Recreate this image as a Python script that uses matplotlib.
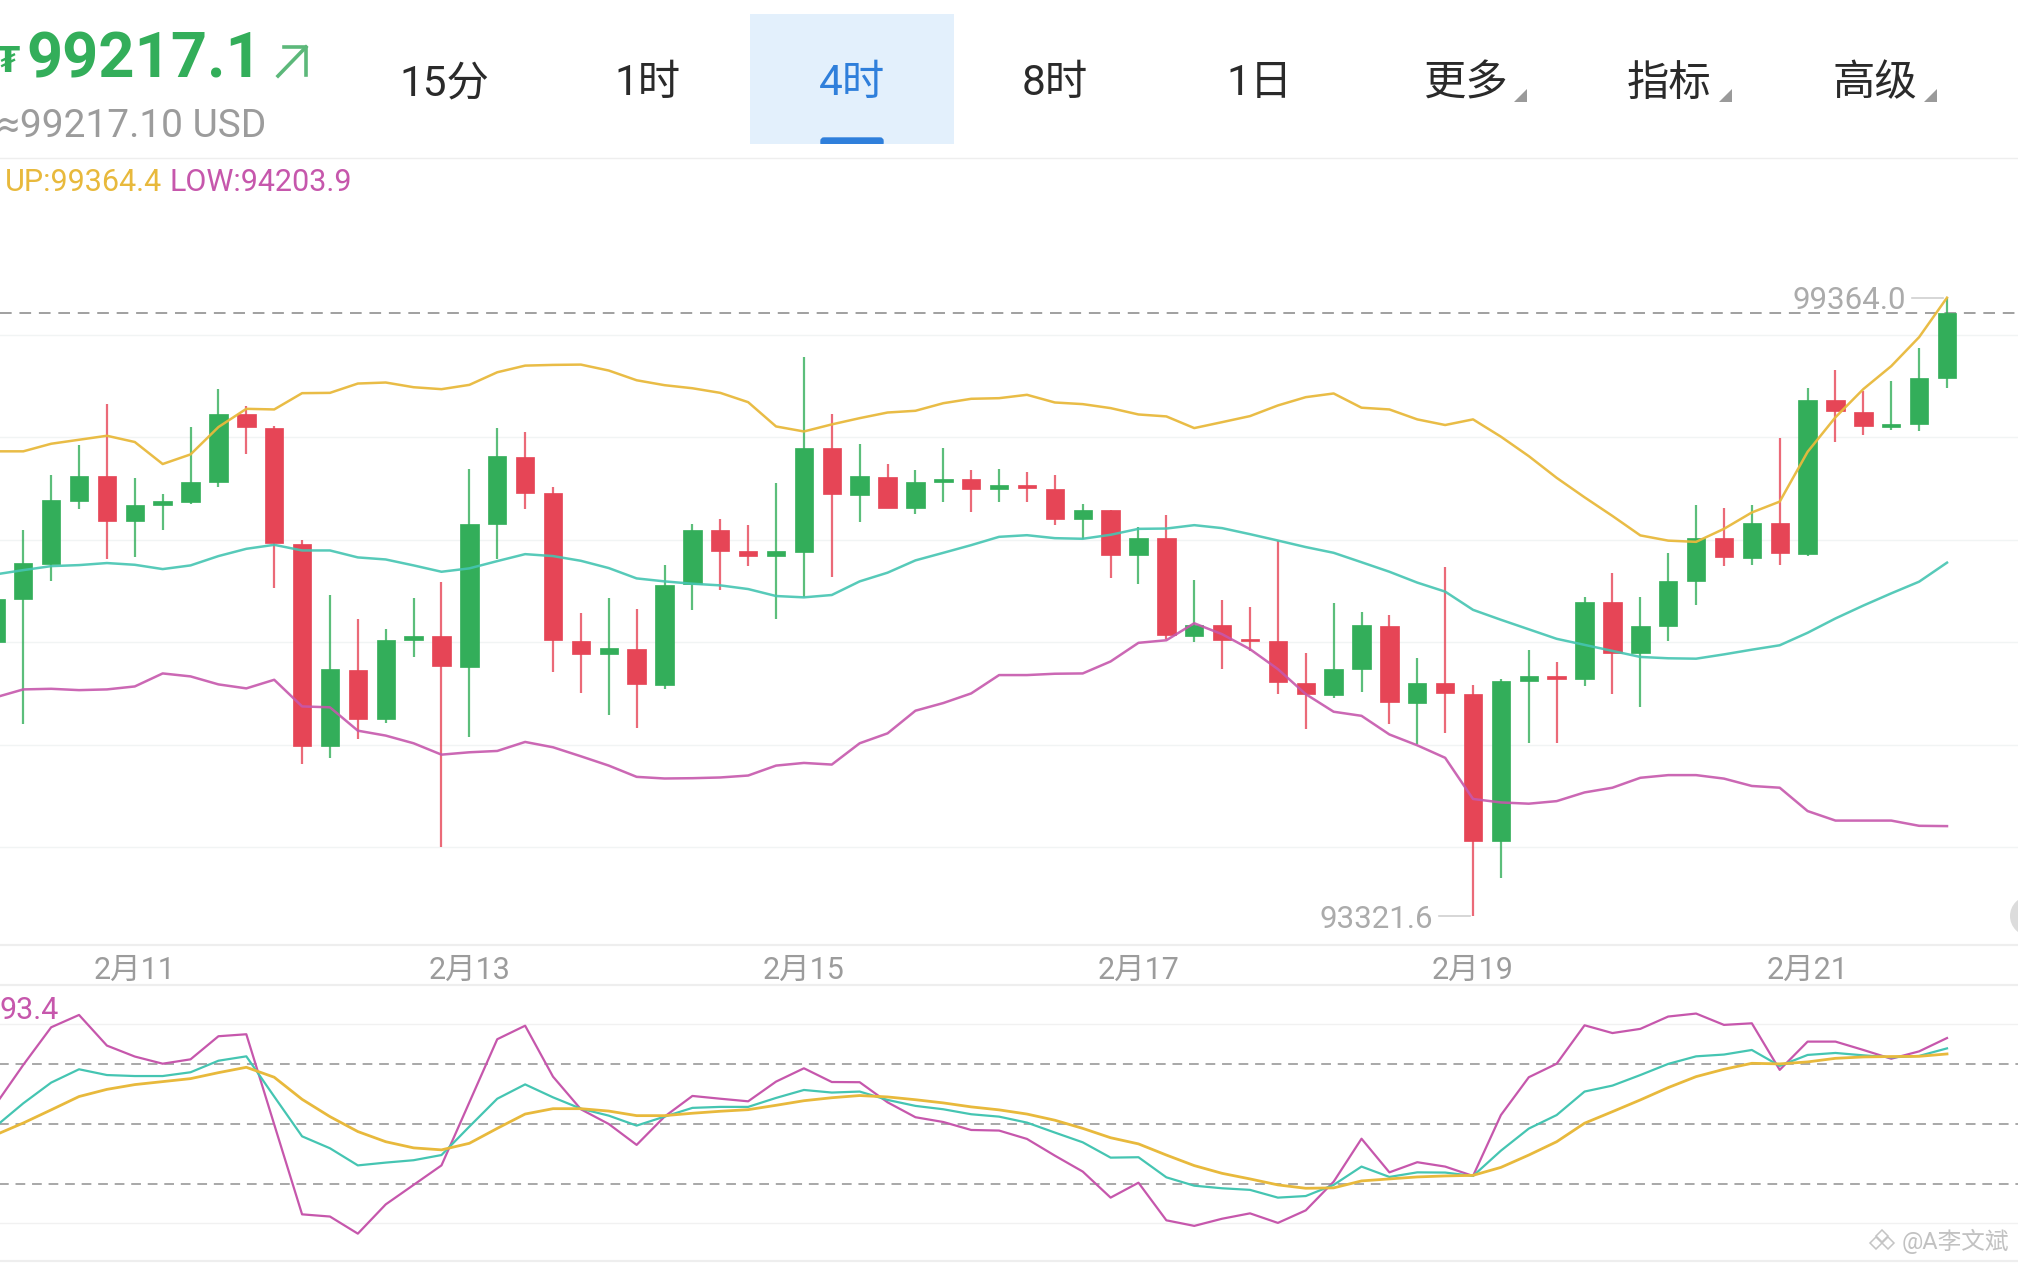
import matplotlib
matplotlib.use("Agg")
import matplotlib.pyplot as plt
from matplotlib.patches import Rectangle, FancyBboxPatch, Polygon, Circle

plt.rcParams["font.family"] = ["Roboto", "Noto Sans CJK SC", "DejaVu Sans"]

# 4h candles
open_ = [96006, 96419, 96766, 97380, 97627, 97182, 97338, 97373, 97562, 98227,
         98094, 96958, 94987, 95727, 95250, 96019, 96058, 95760, 97152, 97812,
         97461, 96013, 95880, 95938, 95584, 96565, 97091, 96886, 96841, 96883,
         97896, 97441, 97617, 97308, 97562, 97591, 97493, 97536, 97500, 97201,
         97289, 96847, 97016, 96065, 96166, 96029, 96013, 95597, 95487, 95741,
         96160, 95408, 95602, 95496, 94063, 95623, 95674, 95640, 96388, 95894,
         96156, 96595, 97014, 96823, 97161, 96866, 98366, 98252, 98104, 98129,
         98577]
close = [96425, 96769, 97386, 97627, 97188, 97344, 97380, 97565, 98230, 98097,
         96964, 94990, 95734, 95253, 96026, 96065, 95763, 97159, 97818, 97461,
         96019, 95883, 95945, 95591, 96558, 97094, 96890, 96841, 96886, 97899,
         97445, 97620, 97312, 97568, 97594, 97497, 97539, 97506, 97208, 97292,
         96851, 97019, 96068, 96169, 96023, 96016, 95607, 95493, 95743, 96164,
         95412, 95606, 95505, 94063, 95623, 95674, 95640, 96392, 95898, 96160,
         96599, 97018, 96828, 97166, 96870, 98370, 98256, 98108, 98129, 98582,
         99217.1]
high = [96470, 97091, 97630, 97925, 98325, 97604, 97451, 98104, 98477, 98308,
        98114, 96997, 96464, 96224, 96127, 96435, 96591, 97695, 98088, 98052,
        97513, 96286, 96429, 96321, 96753, 97159, 97208, 97146, 97555, 98789,
        98224, 97938, 97743, 97685, 97896, 97679, 97695, 97662, 97636, 97354,
        97289, 97127, 97243, 96604, 96416, 96344, 96987, 95899, 96383, 96291,
        96261, 95843, 96730, 95585, 95640, 95923, 95809, 96439, 96671, 96443,
        96870, 97335, 97309, 97343, 97998, 98480, 98658, 98451, 98548, 98877,
        99364.0]
low = [95950, 95201, 96594, 97305, 96808, 96828, 97091, 97354, 97513, 97834,
       96529, 94815, 94873, 95052, 95214, 95860, 94000, 95078, 96808, 97305,
       95711, 95503, 95292, 95162, 95545, 96312, 96506, 96743, 96231, 96441,
       96636, 97169, 97312, 97253, 97373, 97276, 97370, 97373, 97140, 97010,
       96630, 96571, 96029, 96003, 95740, 95916, 95493, 95152, 95454, 95509,
       95200, 95002, 95116, 93321.6, 93696, 95019, 95014, 95568, 95496, 95365,
       96012, 96367, 96743, 96756, 96756, 96840, 97952, 98028, 98070, 98058,
       98480]

# bollinger bands
boll_up = [97864, 97864, 97938, 97977, 98016, 97955, 97740, 97834, 98101, 98279,
           98273, 98432, 98435, 98526, 98536, 98490, 98471, 98513, 98636, 98701,
           98708, 98711, 98653, 98558, 98510, 98480, 98435, 98344, 98107, 98058,
           98127, 98188, 98243, 98260, 98334, 98377, 98383, 98416, 98341, 98325,
           98286, 98224, 98205, 98091, 98149, 98208, 98312, 98393, 98429, 98290,
           98273, 98176, 98121, 98176, 98007, 97817, 97605, 97415, 97233, 97043,
           96992, 96980, 97107, 97267, 97373, 97859, 98197, 98472, 98696, 98979,
           99364.4]
boll_mid = [96662, 96704, 96743, 96753, 96773, 96756, 96714, 96750, 96841, 96912,
            96951, 96896, 96896, 96828, 96808, 96750, 96688, 96721, 96792, 96860,
            96841, 96795, 96724, 96623, 96594, 96571, 96555, 96519, 96451, 96438,
            96461, 96594, 96679, 96799, 96873, 96948, 97029, 97045, 97016, 97010,
            97049, 97107, 97110, 97143, 97114, 97055, 96993, 96929, 96873, 96781,
            96688, 96582, 96494, 96316, 96219, 96126, 96033, 95974, 95915, 95856,
            95843, 95839, 95881, 95927, 95970, 96092, 96232, 96358, 96477, 96591,
            96777]
boll_low = [95461, 95539, 95545, 95532, 95539, 95568, 95695, 95666, 95588, 95549,
            95633, 95373, 95364, 95136, 95088, 95013, 94902, 94925, 94938, 95026,
            94974, 94886, 94795, 94685, 94669, 94672, 94679, 94698, 94795, 94821,
            94805, 95013, 95110, 95331, 95406, 95500, 95679, 95679, 95692, 95695,
            95812, 95994, 96019, 96185, 96078, 95932, 95737, 95493, 95321, 95281,
            95099, 94993, 94871, 94469, 94435, 94423, 94448, 94533, 94579, 94676,
            94702, 94702, 94668, 94596, 94579, 94351, 94258, 94258, 94258, 94207,
            94203.9]

# KDJ
kdj_k = [48.6, 60.3, 70.7, 77.4, 74.5, 74.0, 74.0, 75.9, 81.7, 83.9,
         63.7, 43.7, 37.7, 29.1, 30.5, 31.7, 34.3, 48.6, 62.6, 69.8,
         63.3, 57.6, 54.1, 49.1, 53.6, 58.0, 58.5, 58.5, 63.0, 67.0,
         65.7, 66.2, 62.0, 59.0, 57.3, 54.8, 53.6, 50.6, 45.6, 40.7,
         33.0, 33.2, 23.1, 18.9, 17.6, 16.8, 12.9, 13.7, 19.3, 28.5,
         23.3, 25.6, 25.5, 23.8, 36.5, 47.6, 54.4, 66.2, 69.2, 74.5,
         80.1, 83.9, 84.8, 87.1, 79.1, 84.6, 85.6, 84.4, 83.4, 84.1,
         87.9]
kdj_d = [44.4, 50.4, 57.0, 63.7, 67.3, 69.7, 71.2, 72.7, 75.7, 78.4,
         73.4, 62.3, 53.6, 46.1, 41.0, 37.9, 36.9, 40.2, 47.7, 54.9,
         57.6, 57.6, 56.4, 54.1, 54.1, 55.3, 56.3, 57.1, 59.3, 61.6,
         63.1, 64.2, 63.5, 62.1, 60.5, 58.5, 57.0, 54.9, 51.8, 47.7,
         43.0, 39.9, 34.3, 29.0, 25.1, 22.3, 19.3, 17.6, 17.8, 21.3,
         22.3, 23.3, 23.8, 24.1, 28.1, 34.3, 41.0, 50.3, 56.1, 62.0,
         68.2, 73.7, 77.4, 80.4, 80.1, 81.1, 82.9, 83.6, 83.8, 83.9,
         85.1]
kdj_j = [59.5, 79.6, 98.5, 104.7, 89.3, 83.8, 80.2, 82.4, 94.0, 95.0,
         49.7, 4.5, 3.4, -5.2, 9.5, 19.3, 29.1, 60.8, 92.5, 99.3,
         73.7, 57.3, 49.9, 39.4, 53.6, 64.0, 62.6, 61.3, 71.2, 77.9,
         71.0, 70.9, 60.8, 53.3, 50.9, 46.9, 46.6, 42.4, 34.0, 26.0,
         12.9, 20.4, 1.5, -1.3, 2.3, 5.0, 0.2, 6.5, 20.9, 42.5,
         25.6, 30.7, 28.5, 23.8, 54.4, 73.4, 80.2, 99.5, 95.6, 97.7,
         103.9, 105.4, 99.7, 100.5, 77.1, 91.3, 91.3, 87.1, 82.7, 86.4,
         93.1]

date_pos = [5, 17, 29, 41, 53, 65]
date_labels = ["2月11", "2月13", "2月15", "2月17", "2月19", "2月21"]
price_grid = [99000, 98000, 97000, 96000, 95000, 94000]
kdj_grid = [100, 0]
kdj_levels = [80, 50, 20]
last_price = 99217.1
tabs = ["15分", "1时", "4时", "8时", "1日", "更多", "指标", "高级"]
tab_x = [444, 647, 852, 1055, 1259, 1465, 1669, 1875]

W, H = 2018, 1263
green = "#33ae5a"
red = "#e64556"
yellow = "#e8b93c"
teal = "#45c5b2"
pink = "#c657ac"
gray = "#9c9c9c"
sep = "#eeeeee"

fig = plt.figure(figsize=(W / 100, H / 100), dpi=100, facecolor="white")


def panel(top, bottom):
    ax = fig.add_axes([0, 1 - bottom / H, 1, (bottom - top) / H])
    ax.set_xlim(4.6 / 27.88, (W + 4.6) / 27.88)
    ax.axis("off")
    return ax


# header / overlay in pixels
bg = fig.add_axes([0, 0, 1, 1], zorder=0)
bg.set_xlim(0, W)
bg.set_ylim(H, 0)
bg.axis("off")

bg.add_patch(Rectangle((750, 14), 204, 130, color="#e3f0fc", lw=0))
bg.add_patch(FancyBboxPatch((821, 138), 62, 8, boxstyle="round,pad=0,rounding_size=3",
                            color="#2f7fdb", lw=1, clip_on=True))
bg.add_patch(Rectangle((750, 144), 204, 6, color="white", lw=0, zorder=3))
bg.text(20, 62, "₮", color=green, fontsize=25, fontweight="bold", ha="right", va="center",
        family=["DejaVu Sans"])
bg.text(26, 78, "99217.1", color=green, fontsize=45.5, fontweight="bold", ha="left", va="baseline")
bg.plot([278, 306, 306], [76, 47, 47], color="#5cb87a", lw=2.6)
bg.plot([284, 306, 306], [47, 47, 75], color="#5cb87a", lw=2.6)
bg.text(-2, 137, "≈99217.10 USD", color=gray, fontsize=28, ha="left", va="baseline")
for name, x in zip(tabs, tab_x):
    col = "#2f7fdb" if name == "4时" else "#2a2a2a"
    bg.text(x, 84, name, color=col, fontsize=30.5, ha="center", va="center")
for x in [1527, 1732, 1937]:
    bg.add_patch(Polygon([[x, 89], [x, 102], [x - 13, 102]], color="#9a9a9a", lw=0))

for y, lw in [(158, 1.0), (945, 1.6), (985, 1.6), (1261, 1.6)]:
    bg.plot([0, W], [y, y], color=sep, lw=lw)

bg.text(5, 191, "UP:99364.4", color=yellow, fontsize=22, ha="left", va="baseline")
bg.text(170, 191, "LOW:94203.9", color=pink, fontsize=22, ha="left", va="baseline")
bg.text(59, 1019, "93.4", color=pink, fontsize=22, ha="right", va="baseline")

# main candles
ax = panel(160, 945)
ax.set_ylim(93043, 100709)
ax.hlines(price_grid, 0, 80, color="#f1f4f4", lw=1.0, zorder=1)
ax.axhline(last_price, color="#a0a0a0", lw=1.4, dashes=(6, 4), zorder=1.5)

xs = list(range(len(close)))
for x, o, c, h, l in zip(xs, open_, close, high, low):
    col = green if c >= o else red
    ax.vlines(x, l, h, color=col, lw=1.6, alpha=0.8, zorder=2)
    ax.bar(x, abs(c - o), bottom=min(o, c), width=0.66, color=col, edgecolor=col, lw=0.5, zorder=3)

ax.plot(xs, boll_up, color=yellow, lw=1.8, alpha=0.95, zorder=4)
ax.plot(xs, boll_mid, color=teal, lw=1.8, alpha=0.9, zorder=4)
ax.plot(xs, boll_low, color=pink, lw=1.8, alpha=0.9, zorder=4)

# max / min labels
imax = high.index(max(high))
imin = low.index(min(low))
ax.text(imax - 1.47, high[imax] - 30, "%.1f" % high[imax], color="#ababab", fontsize=22.5,
        ha="right", va="center", zorder=5)
ax.plot([imax - 1.25, imax - 0.15], [high[imax], high[imax]], color="#d0d0d0", lw=1.2, zorder=5)
ax.text(imin - 1.42, low[imin] - 30, "%.1f" % low[imin], color="#ababab", fontsize=22.5,
        ha="right", va="center", zorder=5)
ax.plot([imin - 1.22, imin - 0.1], [low[imin], low[imin]], color="#d0d0d0", lw=1.2, zorder=5)

# date axis
for pos, lab in zip(date_pos, date_labels):
    bg.text(pos * 27.88 - 4.6, 970, lab, color=gray, fontsize=22, ha="center", va="center")

# kdj panel
ax2 = panel(987, 1260)
ax2.set_ylim((1223.3 - 1260) / 1.99, (1223.3 - 987) / 1.99)
ax2.hlines(kdj_grid, 0, 80, color="#f1f1f1", lw=1.0, zorder=1)
ax2.hlines(kdj_levels, 0, 80, color="#a8a8a8", lw=1.4, linestyles=(0, (5, 3.5)), zorder=1.5)
ax2.plot(xs, kdj_j, color=pink, lw=1.6, zorder=3)
ax2.plot(xs, kdj_k, color=teal, lw=1.6, zorder=3)
ax2.plot(xs, kdj_d, color=yellow, lw=2.0, zorder=3)

# watermark and the small scroll knob
over = fig.add_axes([0, 0, 1, 1], zorder=5)
over.set_xlim(0, W)
over.set_ylim(H, 0)
over.axis("off")
over.add_patch(Circle((2030, 916), 20, color="#dcdcdc", lw=0))
over.plot([1882, 1876, 1888], [1236, 1243, 1243], ls="none", marker="D", ms=6, mfc="none", mec="#c4c4c4", mew=1.1)
over.text(1902, 1241, "@A李文斌", color="#c2c2c2", fontsize=17, ha="left", va="center")

fig.savefig("out.png", dpi=100)
